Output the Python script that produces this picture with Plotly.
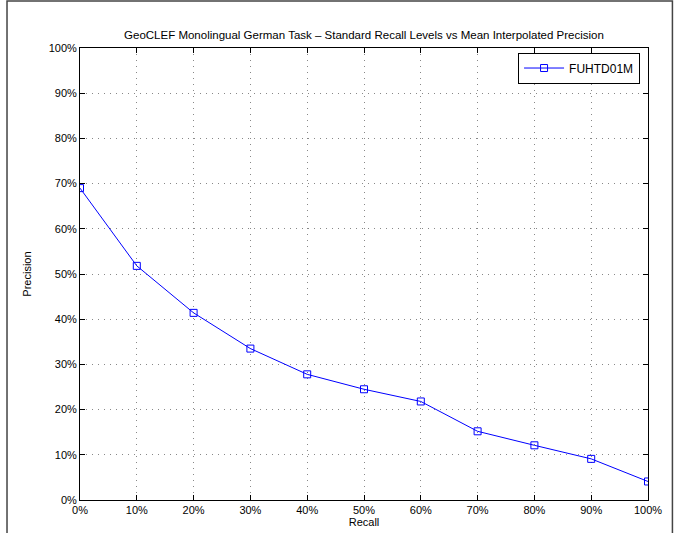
import plotly.graph_objects as go

recall = [0, 10, 20, 30, 40, 50, 60, 70, 80, 90, 100]
precision = [69.0, 51.8, 41.4, 33.5, 27.8, 24.5, 21.8, 15.2, 12.1, 9.1, 4.1]
ticks = list(range(0, 101, 10))
tick_text = [f"{t}%" for t in ticks]

fig = go.Figure()
fig.add_trace(go.Scatter(
    x=recall, y=precision, name="FUHTD01M",
    mode="lines+markers",
    line=dict(color="#0000ff", width=1),
    marker=dict(symbol="square-open", size=7, color="#0000ff", line=dict(width=1)),
))

axis_common = dict(
    showline=True, linecolor="black", linewidth=1, mirror="ticks",
    ticks="inside", ticklen=5, tickcolor="black",
    showgrid=True, gridcolor="#888888", griddash="1px,5px", gridwidth=1,
    zeroline=False, tickfont=dict(size=11, color="black"),
    tickvals=ticks, ticktext=tick_text, automargin=False,
)

fig.update_xaxes(range=[0, 100], title=dict(text="Recall", standoff=1,
                 font=dict(size=11, color="black")), **axis_common)
fig.update_yaxes(range=[0, 100], title=dict(text="Precision", standoff=14,
                 font=dict(size=11, color="black")), **axis_common)

fig.update_layout(
    width=675, height=533,
    margin=dict(l=80, r=27, t=48, b=33),
    paper_bgcolor="white", plot_bgcolor="white",
    font=dict(family="Liberation Sans, Arial, sans-serif", size=11, color="black"),
    title=dict(text="GeoCLEF Monolingual German Task \u2013 Standard Recall Levels vs Mean Interpolated Precision",
               x=0.5, xref="paper", xanchor="center", y=1, yref="paper", yanchor="bottom",
               pad=dict(b=9), font=dict(size=11.5, color="black"), automargin=False),
    showlegend=True,
    legend=dict(x=0.986, y=0.99, xanchor="right", yanchor="top",
                bordercolor="black", borderwidth=1, bgcolor="white",
                itemwidth=40, font=dict(size=12, color="black")),
)

# outer frame of the exported figure
fig.add_shape(type="rect", xref="paper", yref="paper",
              x0=-0.1285, x1=1.043, y0=-0.09, y1=1.104,
              line=dict(color="#444444", width=1.5), layer="below")

fig.write_html("out.html", config={"displayModeBar": False},
               post_script="document.body.style.margin='0';")
